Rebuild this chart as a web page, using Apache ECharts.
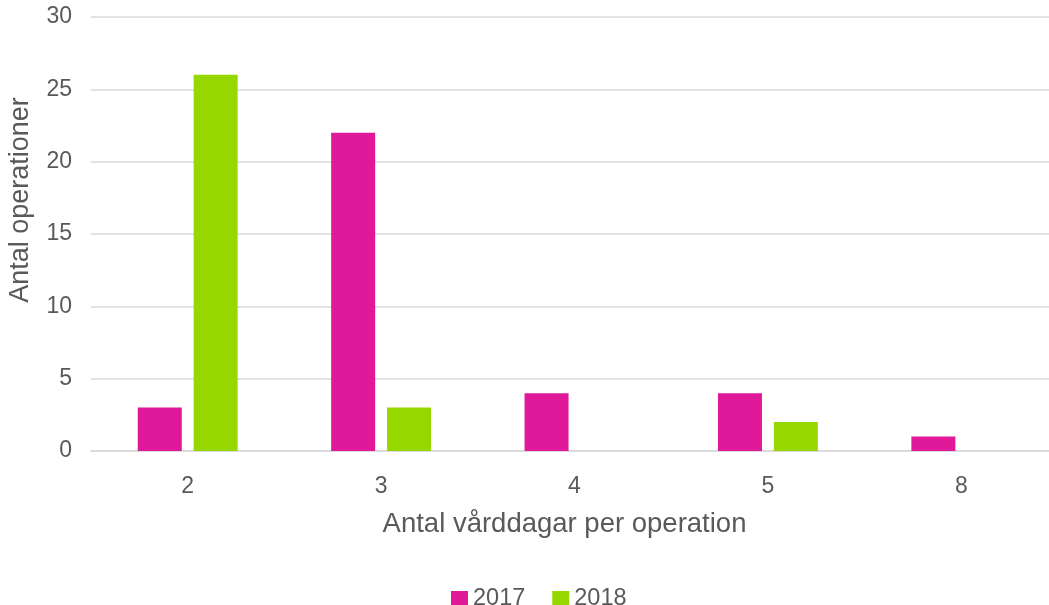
<!DOCTYPE html>
<html>
<head>
<meta charset="utf-8">
<script src="https://cdn.jsdelivr.net/npm/echarts@6/dist/echarts.min.js"></script>
<style>
html,body{margin:0;padding:0;background:#fff;}
#chart{width:1049px;height:605px;}
</style>
</head>
<body>
<div id="chart"></div>
<script>
var categories = ['2', '3', '4', '5', '8'];
var series2017 = [3, 22, 4, 4, 1];
var series2018 = [26, 3, 0, 2, 0];
var seriesNames = ['2017', '2018'];
var yTicks = { min: 0, max: 30, interval: 5 };

var textColor = '#595959';
var fontFamily = '"Liberation Sans", Arial, sans-serif';

var chart = echarts.init(document.getElementById('chart'));
chart.setOption({
  animation: false,
  textStyle: { fontFamily: fontFamily },
  grid: { left: 91, width: 967, top: 17, bottom: 154, containLabel: false, outerBoundsMode: 'none' },
  legend: {
    top: 582,
    left: 446,
    itemWidth: 17,
    itemHeight: 16,
    itemGap: 27,
    icon: 'rect',
    textStyle: { color: textColor, fontSize: 23.5, fontFamily: fontFamily },
    data: seriesNames
  },
  xAxis: {
    type: 'category',
    data: categories,
    name: 'Antal vårddagar per operation',
    nameLocation: 'middle',
    nameGap: 59,
    nameTextStyle: { color: textColor, fontSize: 27.5, fontFamily: fontFamily, padding: [0, 20, 0, 0] },
    axisLine: { show: true, lineStyle: { color: '#d9d9d9', width: 1.5 } },
    axisTick: { show: false },
    axisLabel: { color: textColor, fontSize: 23, margin: 24, fontFamily: fontFamily }
  },
  yAxis: {
    type: 'value',
    min: yTicks.min,
    max: yTicks.max,
    interval: yTicks.interval,
    name: 'Antal operationer',
    nameLocation: 'middle',
    nameGap: 57,
    nameTextStyle: { color: textColor, fontSize: 27, fontFamily: fontFamily, padding: [0, 0, 0, 68] },
    axisLine: { show: false },
    axisTick: { show: false },
    axisLabel: { color: textColor, fontSize: 23, margin: 19, fontFamily: fontFamily },
    splitLine: { lineStyle: { color: '#d9d9d9', width: 1.5 } }
  },
  series: [
    {
      name: seriesNames[0],
      type: 'bar',
      data: series2017,
      barWidth: 44,
      barGap: '27%',
      itemStyle: { color: '#E0189A' }
    },
    {
      name: seriesNames[1],
      type: 'bar',
      data: series2018,
      barWidth: 44,
      itemStyle: { color: '#97D700' }
    }
  ]
});
</script>
</body>
</html>
